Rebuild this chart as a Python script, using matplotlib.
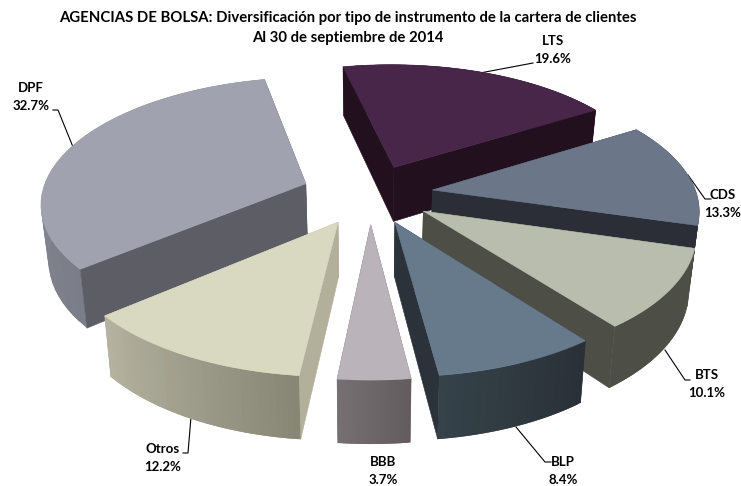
#!/usr/bin/env python3
"""Exploded 3D pie of the client portfolio by instrument, drawn as projected polygons."""
import numpy as np
import matplotlib
matplotlib.use('Agg')
import matplotlib.pyplot as plt
from matplotlib.colors import to_rgb
from matplotlib.patches import Polygon

plt.rcParams['font.family'] = ['Lato', 'DejaVu Sans']

labels = ['LTS', 'CDS', 'BTS', 'BLP', 'BBB', 'Otros', 'DPF']
values = [19.6, 13.3, 10.1, 8.4, 3.7, 12.2, 32.7]
explode = [0.24, 0.24, 0.24, 0.24, 0.24, 0.25, 0.26]

title_lines = ['AGENCIAS DE BOLSA: Diversificación por tipo de instrumento de la cartera de clientes',
               'Al 30 de septiembre de 2014']

top_colors = ['#47264a', '#6b7789', '#b9bdae', '#667a8b', '#bab4ba', '#d9d8c1', '#a0a2af']
wall_colors = ['#22101f', '#2b2e37', '#4d4e46', '#2b3239', '#6c6669', '#b2b09a', '#5d5e65']
# outer wall gradient, in clockwise direction
outer_from = ['#22101f', '#2b2e37', '#4d4e46', '#2a3037', '#625c5e', '#888675', '#7b7d88']
outer_to = ['#22101f', '#2b2e37', '#4d4e46', '#354249', '#767073', '#b5b3a0', '#8f919d']

# label centre x, first line y, leader line points
label_pos = [(553, 41), (723, 195), (707, 375), (563, 462), (383, 462), (163, 449), (31, 88)]
leaders = [[(480, 73), (533, 63)],
           [(688, 175), (705, 199), (711, 199)],
           [(665, 350), (685, 380), (690, 380)],
           [(516, 427), (545, 462), (551, 462)],
           None,
           [(191, 417), (188, 453), (183, 453)],
           [(73, 147), (58, 110), (53, 110)]]

draw_order = [0, 1, 2, 3, 6, 5, 4]

# projection of the pie plane
CX, CY = 370.0, 194.0
A, B, K = 264.0, 124.0, 0.14
DEPTH, K_DEPTH = 55.4, 0.108
BOTTOM_SHRINK = 0.977
START_ANGLE = -12.3


def project(x, y):
    w = 1 + K * y
    return CX + A * x / w, CY - B * y / w


def depth(y):
    return DEPTH / (1 + K_DEPTH * y)


def to_bottom(x, y, d):
    return CX + (x - CX) * BOTTOM_SHRINK, y + d


def mix(c1, c2, t):
    a, b = np.array(to_rgb(c1)), np.array(to_rgb(c2))
    return tuple(a + (b - a) * t)


fig = plt.figure(figsize=(7.41, 4.86), dpi=100)
ax = fig.add_axes([0, 0, 1, 1])
ax.set_xlim(0, 741)
ax.set_ylim(486, 0)
ax.axis('off')

edges = np.radians(START_ANGLE + np.concatenate([[0], np.cumsum(values)]) * 3.6)

for z, i in enumerate(draw_order):
    t0, t1 = edges[i], edges[i + 1]
    mid = (t0 + t1) / 2
    wx = explode[i] * np.sin(mid)
    wy = explode[i] * np.cos(mid)
    ax0, ay0 = project(wx, wy)

    thetas = np.linspace(t0, t1, 41)
    rim_x, rim_y = wx + np.sin(thetas), wy + np.cos(thetas)
    rx, ry = project(rim_x, rim_y)
    bx, by = to_bottom(rx, ry, depth(rim_y))
    abx, aby = to_bottom(ax0, ay0, 54)

    base = z * 10 + 2
    # outer wall, in strips that overlap so no seams show
    outer_z = base if np.cos(mid) > 0 else base + 2
    for n in range(len(thetas) - 1):
        m = min(n + 2, len(thetas) - 1)
        quad = [(rx[n], ry[n]), (rx[m], ry[m]), (bx[m], by[m]), (bx[n], by[n])]
        col = mix(outer_from[i], outer_to[i], n / (len(thetas) - 2))
        ax.add_patch(Polygon(quad, closed=True, fc=col, ec='none', zorder=outer_z))

    # radial walls
    for k in (0, -1):
        wall = [(ax0, ay0), (rx[k], ry[k]), (bx[k], by[k]), (abx, aby)]
        ax.add_patch(Polygon(wall, closed=True, fc=wall_colors[i], ec=wall_colors[i], lw=0.4, zorder=base + 1))

    # top face
    top = np.column_stack([np.r_[ax0, rx], np.r_[ay0, ry]])
    ax.add_patch(Polygon(top, closed=True, fc=top_colors[i], ec=top_colors[i], lw=0.4, zorder=base + 3))

for i, name in enumerate(labels):
    x, y = label_pos[i]
    ax.text(x, y, name, ha='center', va='center', fontsize=9.5, fontweight='bold', color='black', zorder=200)
    ax.text(x, y + 18, f'{values[i]:.1f}%', ha='center', va='center', fontsize=9.5, fontweight='bold',
            color='black', zorder=200)
    if leaders[i]:
        ax.plot([p[0] for p in leaders[i]], [p[1] for p in leaders[i]], color='black', lw=0.8, zorder=1)

ax.text(348, 18, title_lines[0], ha='center', va='center', fontsize=10.7, fontweight='bold', color='black')
ax.text(348, 38, title_lines[1], ha='center', va='center', fontsize=10.7, fontweight='bold', color='black')

fig.savefig('out.png', dpi=100)
plt.close(fig)
